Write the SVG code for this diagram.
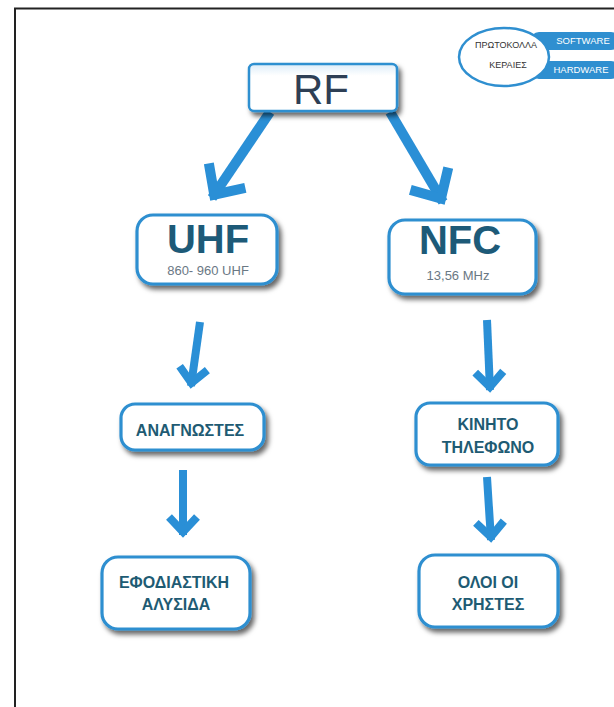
<svg xmlns="http://www.w3.org/2000/svg" width="614" height="707" viewBox="0 0 614 707">
<style>
.box{fill:#fff;stroke:#2f8fd0;stroke-width:3.2;filter:url(#sh)}
.lbl{font-family:"Liberation Sans",Arial,sans-serif;font-weight:bold;font-size:16px;fill:#1e5b73;text-anchor:middle}
.big{font-family:"Liberation Sans",Arial,sans-serif;font-weight:bold;font-size:40px;fill:#1d5a78;text-anchor:middle}
.sub{font-family:"Liberation Sans",Arial,sans-serif;font-size:13px;fill:#6a7884;text-anchor:middle}
.small{font-family:"Liberation Sans",Arial,sans-serif;font-size:9px;fill:#333;text-anchor:middle}
.tab{fill:#2f8fd0}
.tabt{font-family:"Liberation Sans",Arial,sans-serif;font-size:9.5px;fill:#fff;text-anchor:middle}
.arr{fill:none;stroke:#2a8fd6;stroke-width:10}
.arr2{fill:none;stroke:#2a8fd6;stroke-width:8}
</style>
<defs>
<filter id="sh" x="-20%" y="-20%" width="150%" height="160%">
<feDropShadow dx="3" dy="4" stdDeviation="2.5" flood-color="#000" flood-opacity="0.6"/>
</filter>
<linearGradient id="rfg" x1="0" y1="0" x2="0" y2="1">
<stop offset="0" stop-color="#dcecf8"/>
<stop offset="0.25" stop-color="#fff"/>
<stop offset="1" stop-color="#fff"/>
</linearGradient>
<marker id="ah" markerUnits="userSpaceOnUse" orient="auto" refX="0" refY="0" markerWidth="80" markerHeight="80" overflow="visible">
<path d="M-27,-22 L-4,0 L-27,22" fill="none" stroke="#2a8fd6" stroke-width="10"/>
</marker>
<marker id="ah2" markerUnits="userSpaceOnUse" orient="auto" refX="0" refY="0" markerWidth="60" markerHeight="60" overflow="visible">
<path d="M-18,-14 L-3,0 L-18,14" fill="none" stroke="#2a8fd6" stroke-width="8"/>
</marker>
</defs>
<rect width="614" height="707" fill="#fff"/>
<path d="M15,707 V8.5 H614" fill="none" stroke="#222" stroke-width="2"/>

<g id="legend">
<rect class="tab" x="530" y="32" width="90" height="18" rx="9"/>
<rect class="tab" x="530" y="61" width="90" height="18" rx="9"/>
<ellipse cx="504" cy="57" rx="45" ry="29" fill="#fff" stroke="#2f8fd0" stroke-width="2.5"/>
<text class="small" x="506" y="48">ΠΡΩΤΟΚΟΛΛΑ</text>
<text class="small" x="508" y="68">ΚΕΡΑΙΕΣ</text>
<text class="tabt" x="583" y="44">SOFTWARE</text>
<text class="tabt" x="581" y="73">HARDWARE</text>
</g>

<g id="connectors">
<line class="arr" x1="270" y1="112" x2="212" y2="198" marker-end="url(#ah)"/>
<line class="arr" x1="390" y1="112" x2="443" y2="202" marker-end="url(#ah)"/>
<line class="arr2" x1="200" y1="322" x2="191" y2="386" marker-end="url(#ah2)"/>
<line class="arr2" x1="183" y1="470" x2="183" y2="535" marker-end="url(#ah2)"/>
<line class="arr2" x1="487" y1="320" x2="490" y2="390" marker-end="url(#ah2)"/>
<line class="arr2" x1="487" y1="477" x2="491" y2="540" marker-end="url(#ah2)"/>
</g>

<g id="rf">
<rect x="249" y="64" width="148" height="47" rx="5" fill="url(#rfg)" stroke="#2f8fd0" stroke-width="2.5" filter="url(#sh)"/>
<text x="321" y="104" font-family="Liberation Sans,Arial,sans-serif" font-size="42" fill="#2e3f55" text-anchor="middle">RF</text>
</g>

<g id="uhf">
<rect class="box" x="137" y="215" width="140" height="69" rx="16"/>
<text class="big" x="208" y="253">UHF</text>
<text class="sub" x="208" y="275">860- 960 UHF</text>
</g>

<g id="nfc">
<rect class="box" x="389" y="220" width="147" height="74" rx="16"/>
<text class="big" x="460" y="254">NFC</text>
<text class="sub" x="458" y="280">13,56 MHz</text>
</g>

<g id="anagnostes">
<rect class="box" x="121" y="404" width="143" height="46" rx="14"/>
<text class="lbl" x="190" y="436">ΑΝΑΓΝΩΣΤΕΣ</text>
</g>

<g id="kinito">
<rect class="box" x="416" y="403" width="142" height="62" rx="14"/>
<text class="lbl" x="488" y="430">ΚΙΝΗΤΟ</text>
<text class="lbl" x="488" y="453">ΤΗΛΕΦΩΝΟ</text>
</g>

<g id="efodiastiki">
<rect class="box" x="102" y="557" width="148" height="72" rx="16"/>
<text class="lbl" x="174" y="588">ΕΦΟΔΙΑΣΤΙΚΗ</text>
<text class="lbl" x="176" y="610">ΑΛΥΣΙΔΑ</text>
</g>

<g id="oloi">
<rect class="box" x="419" y="555" width="139" height="72" rx="16"/>
<text class="lbl" x="488" y="588">ΟΛΟΙ ΟΙ</text>
<text class="lbl" x="488" y="610">ΧΡΗΣΤΕΣ</text>
</g>
</svg>
